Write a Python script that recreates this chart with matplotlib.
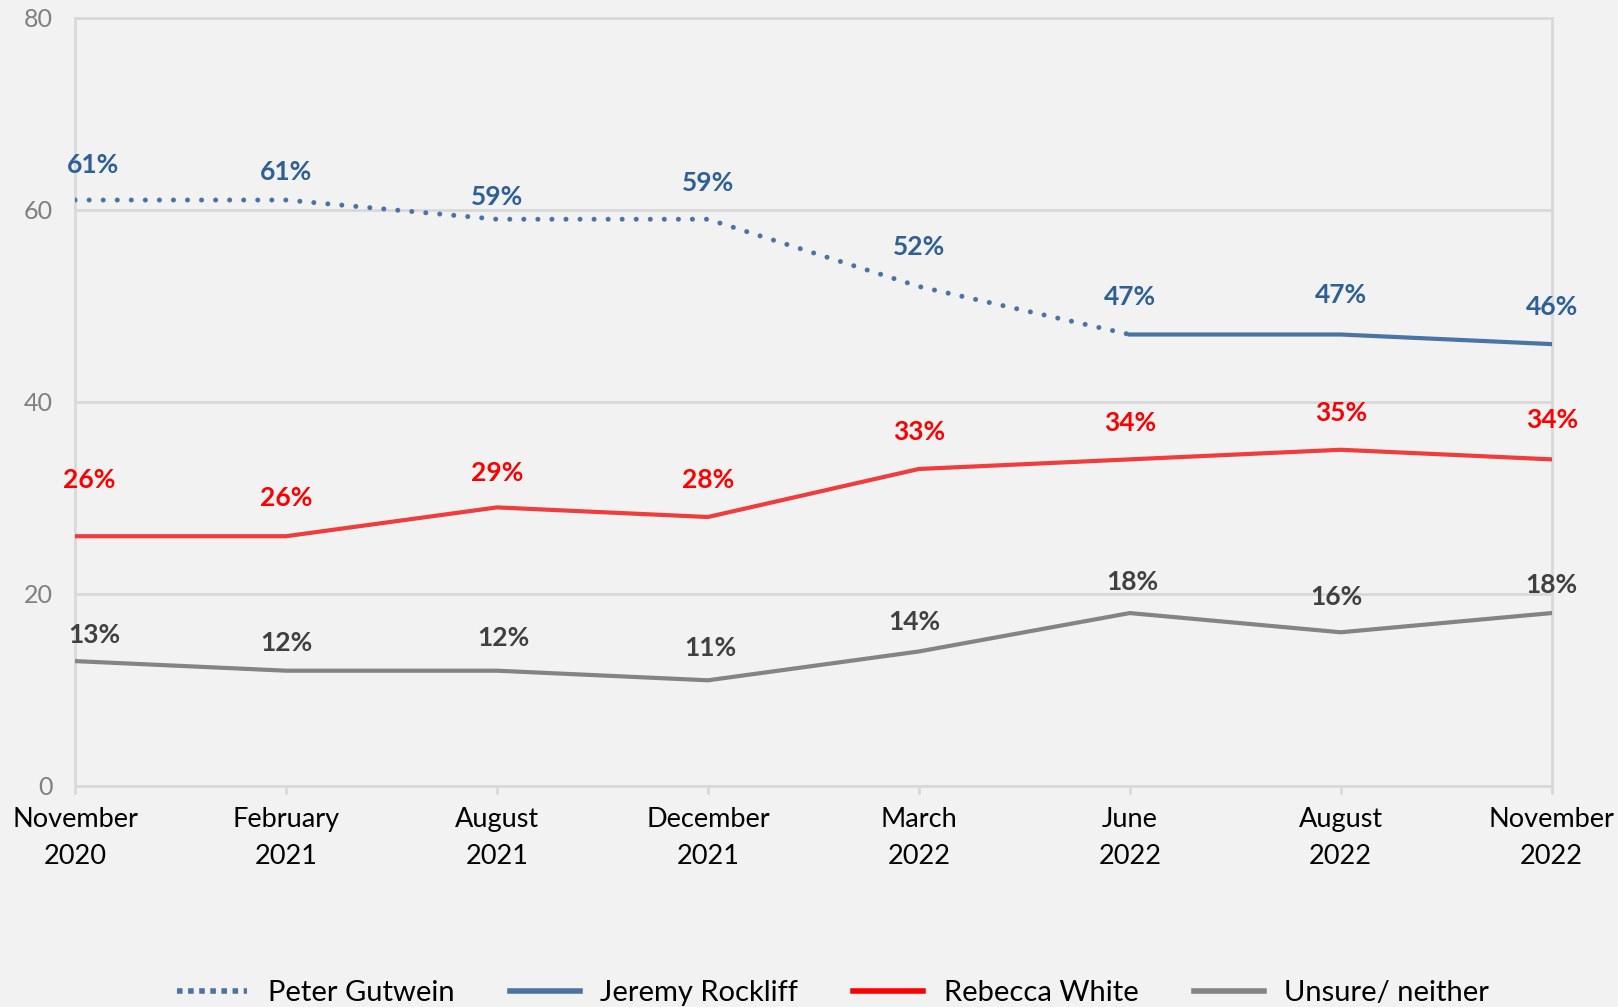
import matplotlib
matplotlib.use("Agg")
import matplotlib.pyplot as plt
from matplotlib.lines import Line2D

# survey waves
months = ["November\n2020", "February\n2021", "August\n2021", "December\n2021",
          "March\n2022", "June\n2022", "August\n2022", "November\n2022"]

gutwein = [61, 61, 59, 59, 52, 47]          # Nov 2020 .. Jun 2022
rockliff = [47, 47, 46]                      # Jun 2022 .. Nov 2022
white = [26, 26, 29, 28, 33, 34, 35, 34]
unsure = [13, 12, 12, 11, 14, 18, 16, 18]

BLUE_LINE = "#4A74A6"
BLUE_TEXT = "#2F5F97"
RED_LINE = "#F03C3C"
RED_TEXT = "#FF0000"
GREY_LINE = "#848484"
GREY_TEXT = "#404040"
GRID = "#D9D9D9"
BG = "#F2F2F2"

plt.rcParams['font.family'] = ['Lato', 'DejaVu Sans']

fig = plt.figure(figsize=(16.18, 10.07), dpi=100, facecolor=BG)
ax = fig.add_axes([0.0464, 0.2195, 0.9126, 0.7631], facecolor=BG)

x_all = list(range(len(months)))
x_rock = x_all[5:]

ax.plot(x_all[:len(gutwein)], gutwein, color=BLUE_LINE, lw=3.6,
        linestyle=(0, (0.01, 2.8)), dash_capstyle='round', zorder=3)
ax.plot(x_rock, rockliff, color=BLUE_LINE, lw=3.0, zorder=3)
ax.plot(x_all, white, color=RED_LINE, lw=3.0, zorder=3)
ax.plot(x_all, unsure, color=GREY_LINE, lw=3.0, zorder=3)

# label offsets (px in reference) -> points
k = 0.743
gut_off = [(17, 34), (0, 27), (0, 22), (0, 35), (0, 38)]
rock_off = [(0, 36), (0, 38), (0, 36)]
white_off = [(14, 54), (0, 37), (0, 33), (0, 36), (0, 36), (0, 35), (0, 36), (0, 38)]
unsure_off = [(19, 25), (0, 27), (6, 32), (2, 31), (-4, 29), (2, 30), (-4, 34), (0, 27)]


def put_labels(xs, ys, offs, color):
    for xi, yi, (dx, dy) in zip(xs, ys, offs):
        ax.annotate(f"{yi}%", (xi, yi), xytext=(dx * k, dy * k),
                    textcoords='offset points', ha='center', va='center',
                    fontsize=19, fontweight='bold', color=color, zorder=4)


put_labels(x_all, gutwein, gut_off, BLUE_TEXT)
put_labels(x_rock, rockliff, rock_off, BLUE_TEXT)
put_labels(x_all, white, white_off, RED_TEXT)
put_labels(x_all, unsure, unsure_off, GREY_TEXT)

ax.set_xlim(0, len(months) - 1)
ax.set_ylim(0, 80)
ax.set_yticks([0, 20, 40, 60, 80])
ax.set_xticks(x_all)
ax.set_xticklabels(months, fontsize=19.5, color="#000000", linespacing=1.6)
ax.tick_params(axis='y', length=0, pad=16, labelsize=18, labelcolor="#7F7F7F")
ax.tick_params(axis='x', length=6, width=2, color=GRID, pad=9)

ax.grid(axis='y', color=GRID, lw=2, zorder=1)
for s in ax.spines.values():
    s.set_color(GRID)
    s.set_linewidth(2)

handles = [
    Line2D([], [], color=BLUE_LINE, lw=4, linestyle=(0, (1, 1))),
    Line2D([], [], color=BLUE_LINE, lw=4),
    Line2D([], [], color="#FF0000", lw=4),
    Line2D([], [], color=GREY_LINE, lw=4),
]
names = ["Peter Gutwein", "Jeremy Rockliff", "Rebecca White", "Unsure/ neither"]
fig.legend(handles, names, loc='center', bbox_to_anchor=(0.515, 0.014),
           ncol=4, frameon=False, fontsize=21, handlelength=2.4,
           columnspacing=1.9, handletextpad=0.7)

fig.savefig("out.png", dpi=100, facecolor=BG)
